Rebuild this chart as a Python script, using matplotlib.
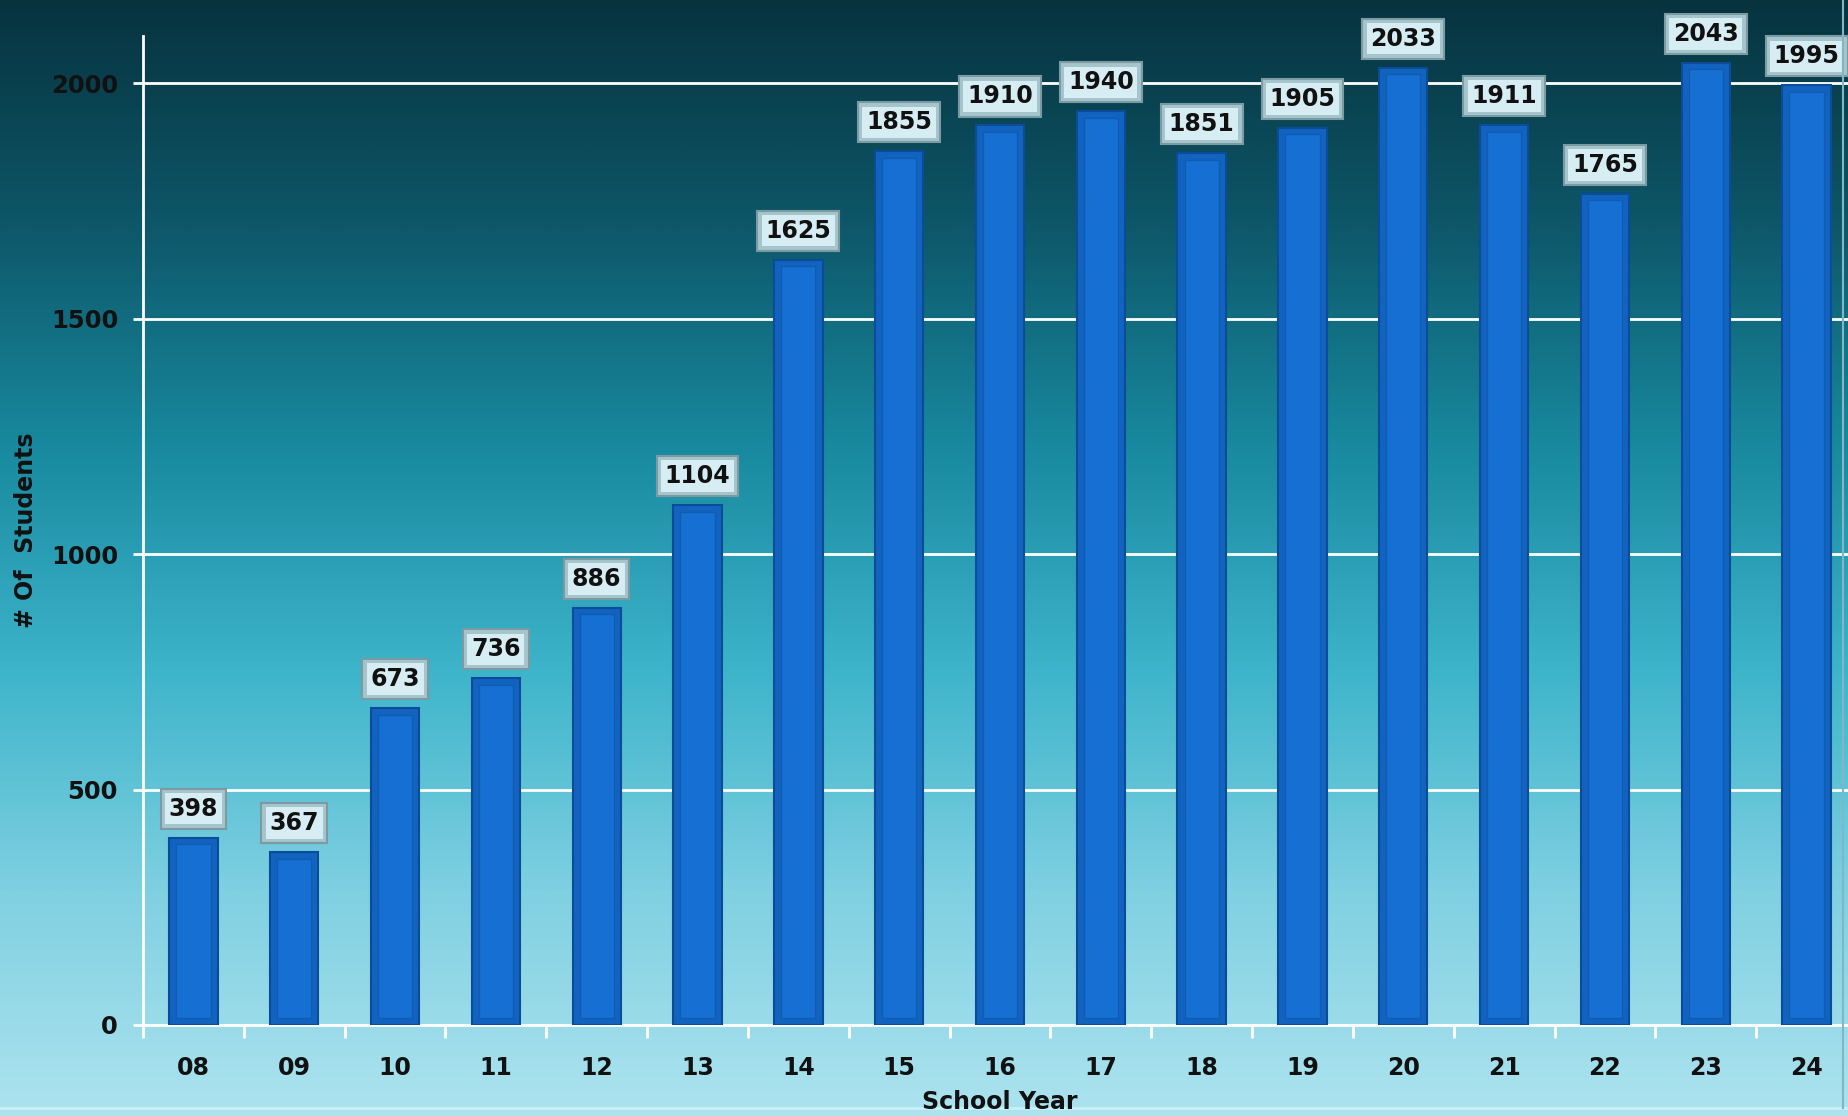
import numpy as np
import matplotlib.pyplot as plt
from matplotlib.colors import LinearSegmentedColormap
from matplotlib.lines import Line2D

# data
years = ["08", "09", "10", "11", "12", "13", "14", "15", "16",
         "17", "18", "19", "20", "21", "22", "23", "24"]
students = [398, 367, 673, 736, 886, 1104, 1625, 1855, 1910,
            1940, 1851, 1905, 2033, 1911, 1765, 2043, 1995]
y_ticks = [0, 500, 1000, 1500, 2000]

W, H = 1848, 1116
fig = plt.figure(figsize=(W / 100, H / 100), dpi=100)

# slide background: dark teal at the top fading to light cyan
bg = fig.add_axes([0, 0, 1, 1], zorder=0)
bg_cmap = LinearSegmentedColormap.from_list(
    "slide", ["#07333f", "#0d5768", "#18899f", "#3db4ca", "#7fd0e1", "#ade3ef"])
grad = np.linspace(0, 1, 512).reshape(-1, 1)
bg.imshow(grad, aspect="auto", cmap=bg_cmap, extent=[0, 1, 0, 1], origin="upper")
bg.axis("off")
# thin frame at the bottom and right edge
fig.add_artist(Line2D([0, 1], [1 - 1108 / H] * 2, color="#c8f0f8", lw=2))
fig.add_artist(Line2D([1843 / W] * 2, [1 - 1108 / H, 1], color="#7fb7c4", lw=1.5))

ax = fig.add_axes([143 / W, 1 - 1025 / H, (1857 - 143) / W, (1025 - 36) / H], zorder=1)
ax.patch.set_alpha(0)

x = np.arange(len(years))
ax.bar(x, students, width=0.48, color="#1263bf", edgecolor="#0b4c99",
       linewidth=1.5, zorder=3)
inset = 14
ax.bar(x, [v - 2 * inset for v in students], bottom=inset, width=0.34,
       color="#1670d3", edgecolor="#0f5cb3", linewidth=1, zorder=4)

for xi, v in zip(x, students):
    # outer frame of the bevelled label, then the lighter face on top
    ax.annotate(str(v), (xi, v), xytext=(0, 17), textcoords="offset pixels",
                ha="center", va="bottom", fontsize=17, fontweight="bold",
                color="#111111", zorder=6,
                bbox=dict(boxstyle="square,pad=0.34", fc="#a6c4cb",
                          ec="#7c9aa1", lw=1.5))
    ax.annotate(str(v), (xi, v), xytext=(0, 17), textcoords="offset pixels",
                ha="center", va="bottom", fontsize=17, fontweight="bold",
                color="#111111", zorder=7,
                bbox=dict(boxstyle="square,pad=0.16", fc="#d6eef3",
                          ec="none"))

ax.set_xlim(-0.5, len(years) - 0.5)
ax.set_ylim(0, 2100)
ax.set_yticks(y_ticks)
ax.yaxis.grid(True, color="white", lw=2, zorder=1)
ax.set_axisbelow(True)

ax.set_xticks(np.arange(-0.5, len(years), 1))
ax.set_xticklabels([])
ax.set_xticks(x, minor=True)
ax.set_xticklabels(years, minor=True)
ax.tick_params(axis="x", which="major", length=9, width=2, color="white")
ax.tick_params(axis="x", which="minor", length=0, pad=22, labelsize=17)
ax.tick_params(axis="y", length=7, width=2, color="white", pad=11, labelsize=17.5)
for lab in ax.get_xticklabels(minor=True) + ax.get_yticklabels():
    lab.set_fontweight("bold")
    lab.set_color("#111111")

for side in ["top", "right"]:
    ax.spines[side].set_visible(False)
for side in ["left", "bottom"]:
    ax.spines[side].set_color("white")
    ax.spines[side].set_linewidth(2)

fig.text(26 / W, 1 - 530 / H, "# Of  Students", rotation=90, ha="center",
         va="center", fontsize=17, fontweight="bold", color="#111111")
fig.text(1000 / W, 1 - 1102 / H, "School Year", ha="center", va="center",
         fontsize=17, fontweight="bold", color="#111111")

fig.savefig("out.png", dpi=100)
